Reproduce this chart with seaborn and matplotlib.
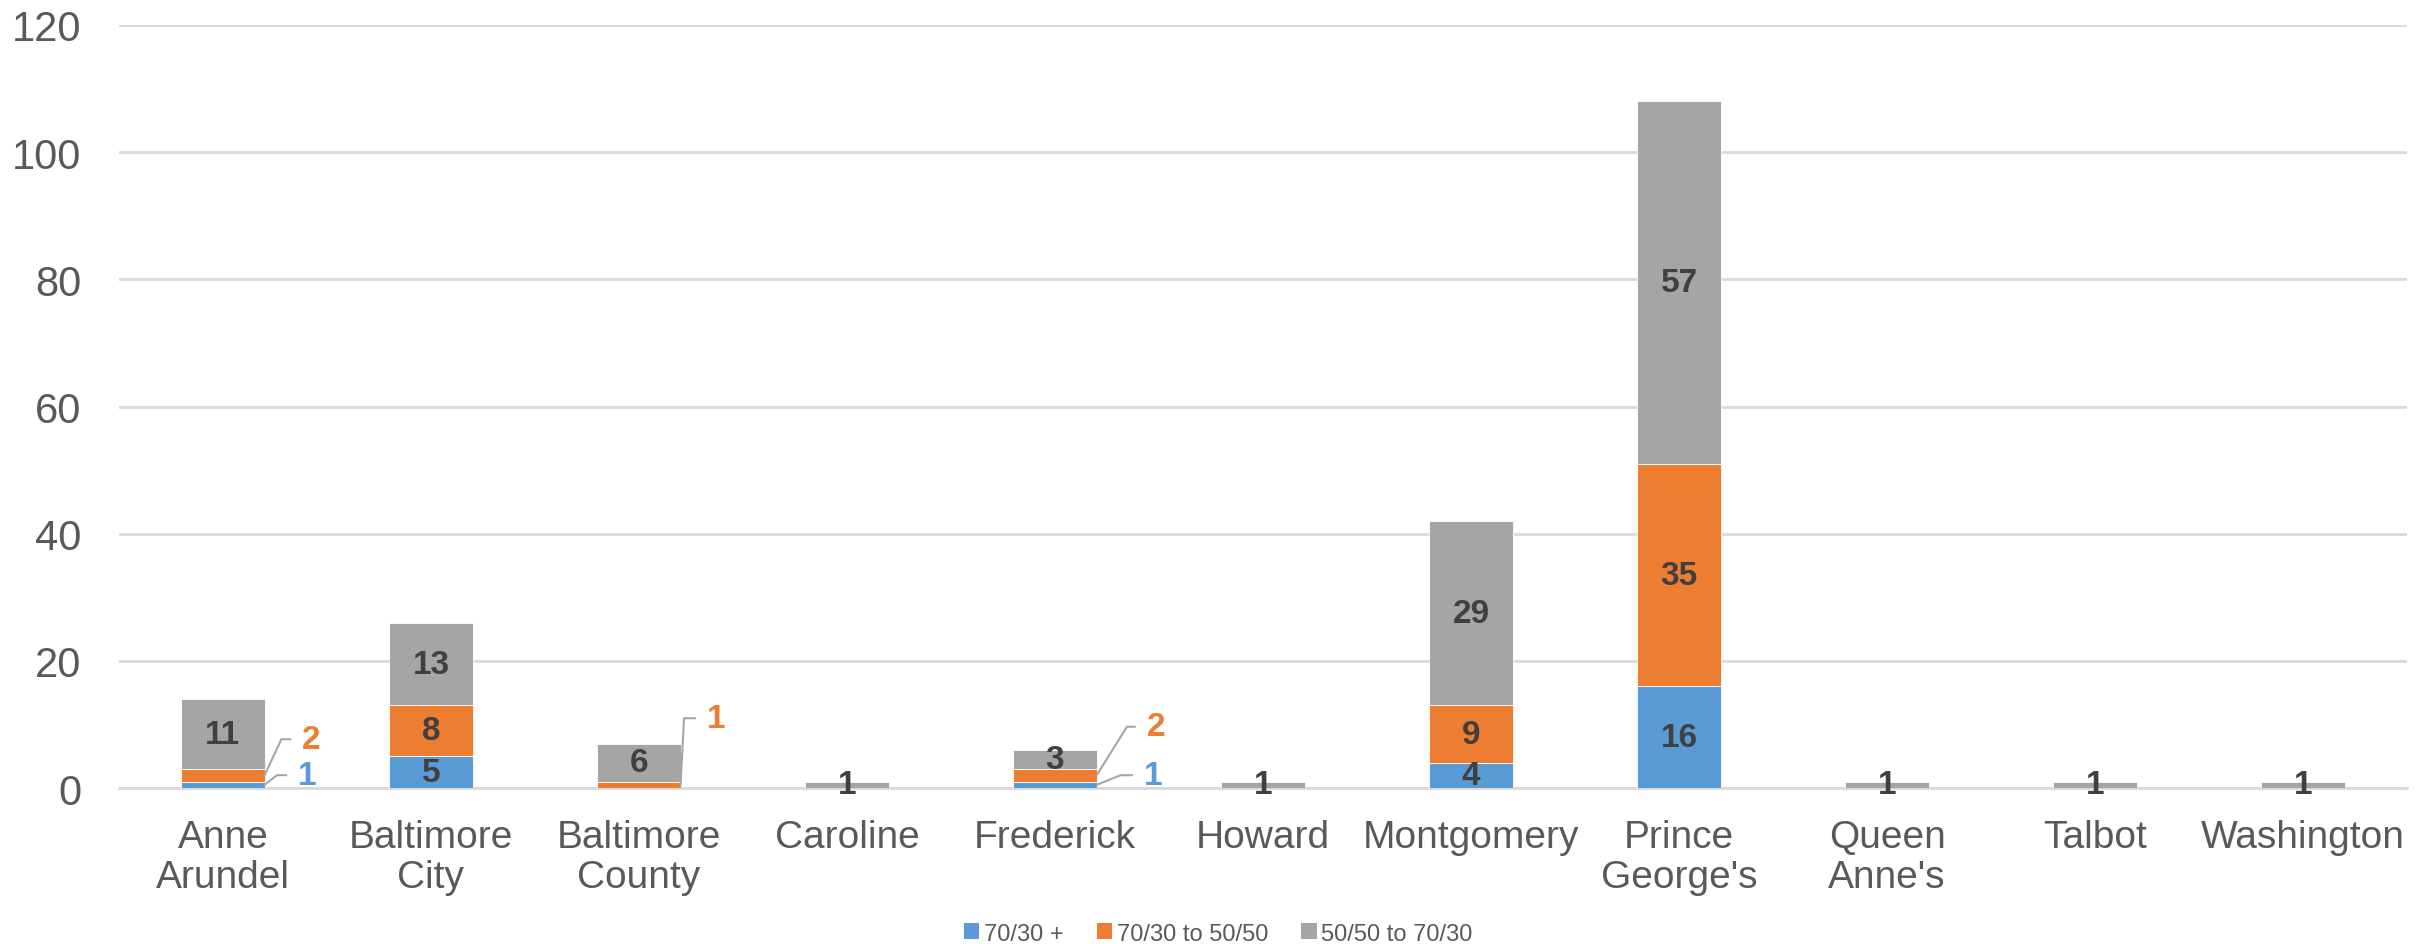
import numpy as np
import pandas as pd
import seaborn as sns
import matplotlib.pyplot as plt
from matplotlib.patches import Patch

counties = ["Anne\nArundel", "Baltimore\nCity", "Baltimore\nCounty", "Caroline", "Frederick",
            "Howard", "Montgomery", "Prince\nGeorge's", "Queen\nAnne's", "Talbot", "Washington"]
s_70_30_plus = [1, 5, 0, 0, 1, 0, 4, 16, 0, 0, 0]
s_70_30_to_50_50 = [2, 8, 1, 0, 2, 0, 9, 35, 0, 0, 0]
s_50_50_to_70_30 = [11, 13, 6, 1, 3, 1, 29, 57, 1, 1, 1]
series_names = ["70/30 +", "70/30 to 50/50", "50/50 to 70/30"]
colors = ["#5B9BD5", "#ED7D31", "#A5A5A5"]

df = pd.DataFrame({"county": counties,
                   series_names[0]: s_70_30_plus,
                   series_names[1]: s_70_30_to_50_50,
                   series_names[2]: s_50_50_to_70_30})

sns.set_style("white")
plt.rcParams["font.family"] = ["Liberation Sans", "DejaVu Sans"]

fig = plt.figure(figsize=(24.27, 9.45), dpi=100)
ax = fig.add_axes([0.049, 0.165, 0.9428, 0.8075])

bar_w = 0.4
bottom = np.zeros(len(counties))
for name, col in zip(series_names, colors):
    sns.barplot(data=df, x="county", y=name, color=col, saturation=1, width=bar_w,
                bottom=bottom, edgecolor="white", linewidth=0.6, ax=ax, zorder=3)
    bottom = bottom + df[name].values

ax.set_ylim(0, 120)
ax.set_xlim(-0.5, len(counties) - 0.5)
ax.set_yticks(range(0, 121, 20))
ax.yaxis.grid(True, color="#D9D9D9", linewidth=2, zorder=0)
ax.set_axisbelow(True)
for sp in ["top", "right", "left"]:
    ax.spines[sp].set_visible(False)
ax.spines["bottom"].set_color("#D9D9D9")
ax.spines["bottom"].set_linewidth(2)
ax.tick_params(axis="y", labelsize=30, labelcolor="#595959", length=0, pad=27)
ax.tick_params(axis="x", labelsize=28, labelcolor="#595959", length=0, pad=22)
for t in ax.get_xticklabels():
    t.set_linespacing(1.15)
ax.set_xlabel("")
ax.set_ylabel("")

# segments labelled outside with a leader line: (county index, series index) -> (dx, dy, angle)
leaders = {(0, 0): (24, 7, 38), (0, 1): (27, 26, 65), (2, 1): (19, 48, 87),
           (4, 0): (34, 7, 22), (4, 1): (36, 35, 58)}

base = np.zeros(len(counties))
for si, name in enumerate(series_names):
    vals = df[name].values
    for ci, v in enumerate(vals):
        if v <= 0:
            continue
        yc = base[ci] + v / 2
        if (ci, si) in leaders:
            dx, dy, ang = leaders[(ci, si)]
            ax.annotate(str(v), xy=(ci + bar_w / 2, yc), xytext=(dx, dy),
                        textcoords="offset points", ha="left", va="center",
                        fontsize=24, fontweight="bold", color=colors[si],
                        arrowprops=dict(arrowstyle="-", color="#A6A6A6", lw=1.5,
                                        shrinkA=6, shrinkB=0, relpos=(0, 0.5),
                                        connectionstyle=f"angle,angleA=0,angleB={ang},rad=0"),
                        zorder=5)
        else:
            ax.text(ci, yc, str(v), ha="center", va="center", fontsize=24,
                    fontweight="bold", color="#404040", zorder=5)
    base = base + vals

handles = [Patch(facecolor=c, edgecolor="none", label=n) for n, c in zip(series_names, colors)]
fig.legend(handles=handles, loc="center", bbox_to_anchor=(0.502, 0.011), ncol=3,
           frameon=False, fontsize=17, labelcolor="#595959", handlelength=0.65,
           handleheight=0.65, handletextpad=0.2, columnspacing=1.4)

fig.savefig("out.png", dpi=100)
